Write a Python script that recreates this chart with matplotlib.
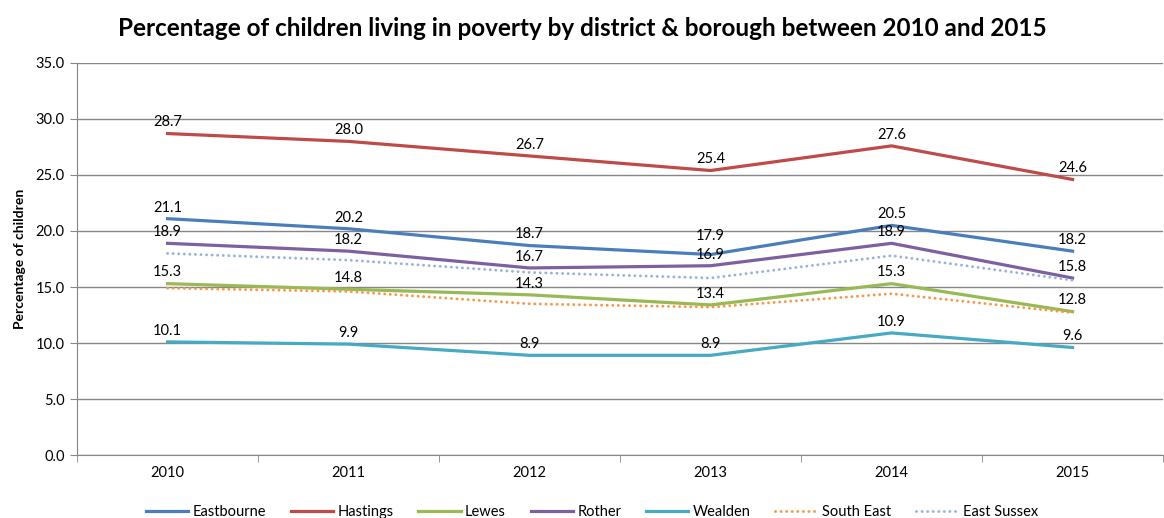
import numpy as np
import matplotlib.pyplot as plt

plt.rcParams['font.family'] = ['Lato', 'DejaVu Sans']

years = ['2010', '2011', '2012', '2013', '2014', '2015']

eastbourne = [21.1, 20.2, 18.7, 17.9, 20.5, 18.2]
hastings = [28.7, 28.0, 26.7, 25.4, 27.6, 24.6]
lewes = [15.3, 14.8, 14.3, 13.4, 15.3, 12.8]
rother = [18.9, 18.2, 16.7, 16.9, 18.9, 15.8]
wealden = [10.1, 9.9, 8.9, 8.9, 10.9, 9.6]
south_east = [14.9, 14.6, 13.5, 13.2, 14.4, 12.7]
east_sussex = [18.0, 17.4, 16.3, 15.8, 17.8, 15.6]

# districts are labelled, the regional comparators are dotted and unlabelled
series = [
    ('Eastbourne', eastbourne, '#4A7EBB', '-', True),
    ('Hastings', hastings, '#BE4B48', '-', True),
    ('Lewes', lewes, '#98B954', '-', True),
    ('Rother', rother, '#7D60A0', '-', True),
    ('Wealden', wealden, '#46AAC5', '-', True),
    ('South East', south_east, '#F79646', ':', False),
    ('East Sussex', east_sussex, '#95B3D7', ':', False),
]
labelled_vals = [s[1] for s in series if s[4]]

fig = plt.figure(figsize=(11.64, 5.18), dpi=100)
ax = fig.add_axes([0.0662, 0.1216, 0.933, 0.7568])

x = np.arange(len(years))
for name, vals, color, ls, labelled in series:
    if ls == ':':
        ax.plot(x, vals, color=color, lw=2.1, linestyle=(0, (0.01, 1.9)),
                dash_capstyle='round', label=name)
    else:
        ax.plot(x, vals, color=color, lw=2.3, label=name)
    if labelled:
        for i, v in enumerate(vals):
            # lift a label when another labelled line sits just below it
            crowded = any(0 < v - other[i] < 1.2 for other in labelled_vals)
            dy = 8 if crowded else 3
            ax.annotate(f'{v:.1f}', (x[i], v), xytext=(0, dy), textcoords='offset points',
                        ha='center', va='bottom', fontsize=10.5, color='#000000')

ax.set_xlim(-0.5, len(years) - 0.5)
ax.set_ylim(0, 35)
ax.set_yticks(np.arange(0, 35.1, 5))
ax.set_yticklabels([f'{t:.1f}' for t in np.arange(0, 35.1, 5)], fontsize=10.5)
ax.yaxis.grid(True, color='#868686', lw=1)
ax.set_axisbelow(True)

ax.set_xticks(x)
ax.set_xticklabels(years, fontsize=10.5)
ax.tick_params(axis='x', length=0, pad=8)
ax.set_xticks(np.arange(-0.5, len(years) + 0.5, 1), minor=True)
ax.tick_params(axis='x', which='minor', length=5, color='#868686')
ax.tick_params(axis='y', length=5, color='#868686', pad=4)

for side in ['top', 'right']:
    ax.spines[side].set_visible(False)
for side in ['left', 'bottom']:
    ax.spines[side].set_color('#868686')

ax.set_ylabel('Percentage of children', fontsize=10, fontweight='bold', labelpad=7)

fig.suptitle('Percentage of children living in poverty by district & borough between 2010 and 2015',
             fontsize=17.5, fontweight='bold', y=0.968)

ax.legend(loc='upper center', bbox_to_anchor=(0.474, -0.095), ncol=7, frameon=False,
          fontsize=10.5, handlelength=2.9, columnspacing=1.7, handletextpad=0.3)

fig.savefig('out.png', dpi=100)
